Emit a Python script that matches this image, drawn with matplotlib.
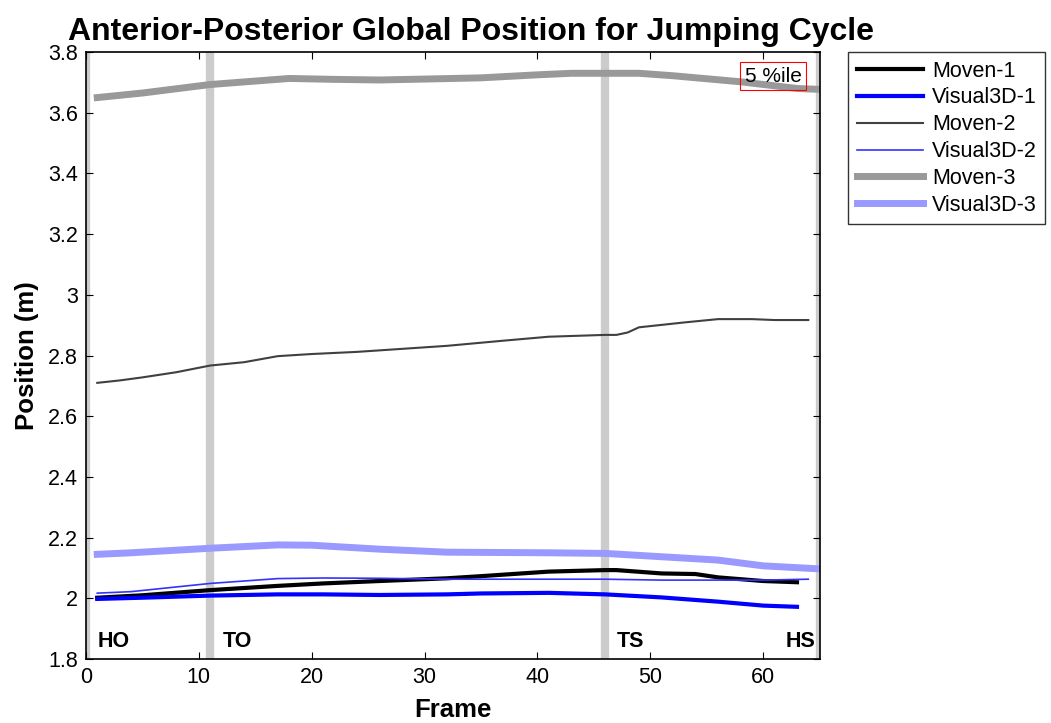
import numpy as np
import matplotlib.pyplot as plt

plt.rcParams['font.family'] = ['Liberation Sans', 'DejaVu Sans']

# frame samples and positions (m) for each series
f_moven1 = [1, 5, 11, 17, 21, 26, 32, 35, 41, 46, 47, 51, 54, 56, 60, 63]
y_moven1 = [2.002, 2.010, 2.027, 2.041, 2.049, 2.057, 2.066, 2.073, 2.088, 2.093, 2.093, 2.082, 2.080, 2.069, 2.057, 2.053]

f_v3d1 = [1, 5, 11, 17, 21, 26, 32, 35, 41, 46, 51, 56, 60, 63]
y_v3d1 = [1.998, 2.002, 2.009, 2.013, 2.013, 2.011, 2.013, 2.016, 2.018, 2.013, 2.003, 1.989, 1.976, 1.972]

f_moven2 = [1, 3, 5, 8, 11, 14, 17, 20, 24, 28, 32, 37, 41, 46, 47, 48, 49, 53, 56, 59, 61, 64]
y_moven2 = [2.710, 2.718, 2.728, 2.745, 2.767, 2.778, 2.798, 2.805, 2.812, 2.822, 2.832, 2.849, 2.862, 2.868, 2.868, 2.876, 2.893, 2.909, 2.920, 2.920, 2.917, 2.917]

f_v3d2 = [1, 4, 11, 17, 21, 26, 32, 41, 46, 51, 56, 60, 64]
y_v3d2 = [2.017, 2.022, 2.049, 2.065, 2.067, 2.066, 2.063, 2.063, 2.063, 2.060, 2.060, 2.060, 2.063]

f_moven3 = [1, 5, 11, 18, 22, 26, 30, 35, 40, 43, 49, 52, 58, 63, 65]
y_moven3 = [3.650, 3.665, 3.693, 3.713, 3.710, 3.708, 3.711, 3.715, 3.725, 3.730, 3.730, 3.722, 3.702, 3.680, 3.677]

f_v3d3 = [1, 4, 11, 17, 20, 26, 32, 41, 46, 51, 56, 60, 65]
y_v3d3 = [2.145, 2.150, 2.165, 2.176, 2.175, 2.162, 2.152, 2.150, 2.148, 2.137, 2.126, 2.107, 2.097]

events = [0, 11, 46, 65]
event_labels = ['HO', 'TO', 'TS', 'HS']
event_label_x = [1, 12.1, 47, 64.6]

fig = plt.figure(figsize=(10.51, 7.23), dpi=100)
ax = fig.add_axes([0.0818, 0.0885, 0.698, 0.8395])

for e in events:
    ax.axvline(e, color='#cccccc', lw=6, zorder=1)

ax.plot(f_moven1, y_moven1, color='black', lw=3, label='Moven-1', zorder=3)
ax.plot(f_v3d1, y_v3d1, color='#0000ff', lw=3, label='Visual3D-1', zorder=3)
ax.plot(f_moven2, y_moven2, color='#404040', lw=1.5, label='Moven-2', zorder=3)
ax.plot(f_v3d2, y_v3d2, color='#3333ff', lw=1.2, label='Visual3D-2', zorder=3)
ax.plot(f_moven3, y_moven3, color='#999999', lw=5, label='Moven-3', zorder=2)
ax.plot(f_v3d3, y_v3d3, color='#9999ff', lw=5, label='Visual3D-3', zorder=2)

for x, lab in zip(event_label_x, event_labels):
    ha = 'right' if lab == 'HS' else 'left'
    ax.text(x, 1.822, lab, ha=ha, va='bottom', fontsize=15.5, fontweight='bold')

ax.text(60.9, 3.72, '5 %ile', ha='center', va='center', fontsize=15,
        bbox=dict(boxstyle='square,pad=0.22', facecolor='none', edgecolor='red', lw=0.8))

ax.set_xlim(0, 65)
ax.set_ylim(1.8, 3.8)
ax.set_xticks(np.arange(0, 61, 10))
yt = np.round(np.arange(1.8, 3.81, 0.2), 1)
ax.set_yticks(yt)
ax.set_yticklabels(['%g' % v for v in yt])
ax.tick_params(direction='in', top=True, right=True, labelsize=15.5, length=5, pad=6)
for s in ax.spines.values():
    s.set_linewidth(1.2)

ax.set_title('Anterior-Posterior Global Position for Jumping Cycle', fontsize=23,
             fontweight='bold', loc='left', x=-0.0245, pad=9)
ax.set_xlabel('Frame', fontsize=18.5, fontweight='bold', labelpad=7)
ax.set_ylabel('Position (m)', fontsize=18.5, fontweight='bold', labelpad=6)

leg = fig.legend(loc='upper left', bbox_to_anchor=(848 / 1051, 1 - 52 / 723),
                 fontsize=15.5, frameon=True, fancybox=False, edgecolor='black',
                 handlelength=3.1, borderaxespad=0, labelspacing=0.27,
                 borderpad=0.4, handletextpad=0.4)
leg.get_frame().set_linewidth(1.0)

fig.savefig('out.png', dpi=100)
